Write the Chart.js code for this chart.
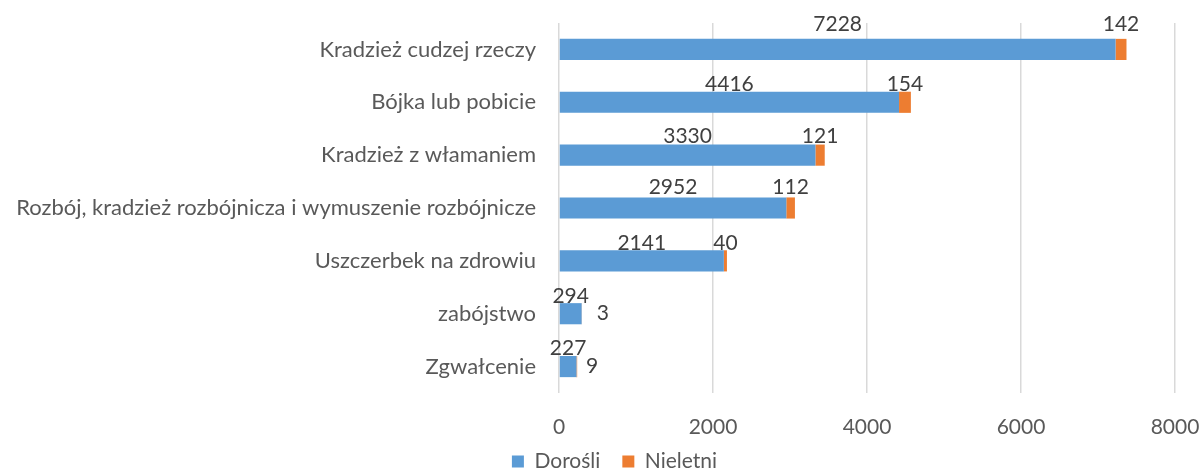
<!DOCTYPE html>
<html>
<head>
<meta charset="utf-8">
<script src="https://cdn.jsdelivr.net/npm/chart.js@4"></script>
<style>
    html, body { margin: 0; padding: 0; background: #fff; overflow: hidden; }
    #wrap { position: relative; width: 1204px; height: 494px; }
</style>
</head>
<body>
<div id="wrap"><canvas id="chart"></canvas></div>
<script>
const categories = [
    "Kradzież cudzej rzeczy",
    "Bójka lub pobicie",
    "Kradzież z włamaniem",
    "Rozbój, kradzież rozbójnicza i wymuszenie rozbójnicze",
    "Uszczerbek na zdrowiu",
    "zabójstwo",
    "Zgwałcenie"
];
const adults = [7228, 4416, 3330, 2952, 2141, 294, 227];
const minors = [142, 154, 121, 112, 40, 3, 9];
const xTicks = [0, 2000, 4000, 6000, 8000];

// label placement: lift above the bar per row, and which small labels sit beside the bar
const labelLift = [-25, -18, -19, -21, -18, -17, -18];
const besideGap = [0, 0, 0, 0, 0, 21, 15];

const TEXT = "#595959";
const FONT = "Lato, 'Liberation Sans', sans-serif";

const valueLabels = {
    id: "valueLabels",
    afterDatasetsDraw(chart) {
        const ctx = chart.ctx;
        ctx.save();
        ctx.font = "21px " + FONT;
        ctx.fillStyle = "#404040";
        ctx.textAlign = "center";
        ctx.textBaseline = "middle";
        chart.getDatasetMeta(0).data.forEach((bar, i) => {
            // centred on the blue segment
            ctx.fillText(String(adults[i]), (bar.base + bar.x) / 2, bar.y + labelLift[i]);
        });
        chart.getDatasetMeta(1).data.forEach((bar, i) => {
            if (besideGap[i]) {
                ctx.fillText(String(minors[i]), bar.x + besideGap[i], bar.y);
            } else {
                ctx.fillText(String(minors[i]), (bar.base + bar.x) / 2, bar.y + labelLift[i]);
            }
        });
        ctx.restore();
    }
};

// nudge the legend right and up a little, like the original
const legendShift = {
    id: "legendShift",
    afterLayout(chart) {
        chart.legend.left += 27;
        chart.legend.right += 27;
        chart.legend.top -= 12;
        chart.legend.bottom -= 12;
    }
};

new Chart(document.getElementById("chart"), {
    type: "bar",
    data: {
        labels: categories,
        datasets: [
            { label: "Dorośli", data: adults, backgroundColor: "#5B9BD5" },
            { label: "Nieletni", data: minors, backgroundColor: "#ED7D31" }
        ]
    },
    options: {
        indexAxis: "y",
        responsive: true,
        maintainAspectRatio: false,
        animation: false,
        barPercentage: 0.4,
        categoryPercentage: 1.0,
        layout: { padding: { top: 23, right: 29, bottom: 0, left: 0 } },
        plugins: {
            legend: {
                position: "bottom",
                labels: {
                    color: TEXT,
                    font: { size: 21, family: FONT },
                    boxWidth: 12,
                    boxHeight: 12,
                    padding: 22
                }
            },
            tooltip: { enabled: false }
        },
        scales: {
            x: {
                stacked: true,
                min: 0,
                max: 8000,
                afterBuildTicks: (axis) => { axis.ticks = xTicks.map(v => ({ value: v })); },
                afterFit: (axis) => {
                    axis.height = 48;
                    axis.paddingLeft = 0;
                    axis.paddingRight = 0;
                },
                grid: { color: "#D9D9D9", lineWidth: 1.5, drawTicks: false },
                border: { display: false },
                ticks: {
                    color: TEXT,
                    font: { size: 21, family: FONT },
                    padding: 22,
                    callback: (v) => String(v)
                }
            },
            y: {
                stacked: true,
                grid: { display: false, drawTicks: false },
                border: { display: false },
                afterFit: (axis) => {
                    axis.width = 559;
                    axis.paddingTop = 0;
                    axis.paddingBottom = 0;
                },
                ticks: { color: TEXT, font: { size: 22, family: FONT }, padding: 23 }
            }
        }
    },
    plugins: [valueLabels, legendShift]
});
</script>
</body>
</html>
